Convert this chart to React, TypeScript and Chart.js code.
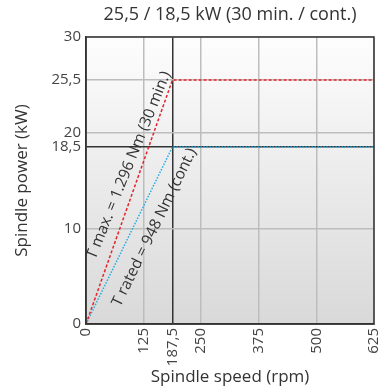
import React, { useEffect, useRef } from "react";
import { Chart, registerables } from "chart.js";
Chart.register(...registerables);

const xTicks = [0, 125, 187.5, 250, 375, 500, 625];
const yTicks = [0, 10, 18.5, 20, 25.5, 30];
const tMaxPoints = [
  { x: 0, y: 0 },
  { x: 187.5, y: 25.5 },
  { x: 625, y: 25.5 },
];
const tRatedPoints = [
  { x: 0, y: 0 },
  { x: 187.5, y: 18.5 },
  { x: 625, y: 18.5 },
];
const chartTitle = "25,5 / 18,5 kW (30 min. / cont.)";
const xTitle = "Spindle speed (rpm)";
const yTitle = "Spindle power (kW)";
const labelMax = { text: "T max. = 1.296 Nm (30 min.)", x: 93, y: 16.6, angle: -68 };
const labelRated = { text: "T rated = 948 Nm (cont.)", x: 148.6, y: 10.1, angle: -64 };

const fmt = (v: number) => String(v).replace(".", ",");
const FONT = "'Open Sans', 'DejaVu Sans', sans-serif";

export default function App() {
  const ref = useRef<HTMLCanvasElement>(null);
  useEffect(() => {
    if (!ref.current) return;
    const decor = {
      id: "decor",
      beforeDraw(chart: any) {
        const { ctx, chartArea: a } = chart;
        ctx.save();
        const g = ctx.createLinearGradient(0, a.top, 0, a.bottom);
        g.addColorStop(0, "#fdfdfd");
        g.addColorStop(1, "#d9d9d9");
        ctx.fillStyle = g;
        ctx.fillRect(a.left, a.top, a.right - a.left, a.bottom - a.top);
        ctx.restore();
      },
      afterDraw(chart: any) {
        const { ctx, chartArea: a, scales } = chart;
        ctx.save();
        ctx.strokeStyle = "#333";
        ctx.lineWidth = 1.5;
        ctx.strokeRect(a.left, a.top, a.right - a.left, a.bottom - a.top);
        ctx.fillStyle = "#333";
        ctx.textAlign = "center";
        ctx.textBaseline = "middle";
        ctx.font = `18px ${FONT}`;
        ctx.fillText(chartTitle, (a.left + a.right) / 2, 15);
        ctx.font = `17px ${FONT}`;
        ctx.fillText(xTitle, (a.left + a.right) / 2, 377);
        ctx.save();
        ctx.translate(22, (a.top + a.bottom) / 2);
        ctx.rotate(-Math.PI / 2);
        ctx.fillText(yTitle, 0, 0);
        ctx.restore();
        ctx.font = `15.5px ${FONT}`;
        for (const l of [labelMax, labelRated]) {
          ctx.save();
          ctx.translate(scales.x.getPixelForValue(l.x), scales.y.getPixelForValue(l.y));
          ctx.rotate((l.angle * Math.PI) / 180);
          ctx.fillText(l.text, 0, 0);
          ctx.restore();
        }
        ctx.restore();
      },
    };
    const chart = new Chart(ref.current, {
      type: "line",
      data: {
        datasets: [
          {
            data: tMaxPoints,
            borderColor: "#e3242b",
            borderWidth: 1.5,
            borderDash: [3, 2],
            pointRadius: 0,
            fill: false,
          },
          {
            data: tRatedPoints,
            borderColor: "#27aae1",
            borderWidth: 1.5,
            borderDash: [1.5, 1.5],
            pointRadius: 0,
            fill: false,
          },
        ],
      },
      options: {
        animation: false,
        responsive: false,
        layout: { padding: { top: 37, right: 13, left: 0, bottom: 0 } },
        plugins: { legend: { display: false }, tooltip: { enabled: false }, title: { display: false } },
        scales: {
          x: {
            type: "linear",
            min: 0,
            max: 625,
            afterBuildTicks: (s: any) => {
              s.ticks = xTicks.map((v) => ({ value: v }));
            },
            afterFit: (s: any) => {
              s.height = 67;
              s.paddingLeft = 0;
              s.paddingRight = 0;
            },
            ticks: {
              autoSkip: false,
              maxRotation: 90,
              minRotation: 90,
              padding: 4,
              color: "#444",
              font: { family: FONT, size: 15 },
              callback: (v: any) => fmt(Number(v)),
            },
            grid: {
              drawTicks: false,
              color: (c: any) => (c.tick && c.tick.value === 187.5 ? "#333" : "#bdbdbd"),
              lineWidth: 1.5,
            },
            border: { display: true, color: "#333", width: 1.5 },
          },
          y: {
            type: "linear",
            min: 0,
            max: 30,
            afterBuildTicks: (s: any) => {
              s.ticks = yTicks.map((v) => ({ value: v }));
            },
            afterFit: (s: any) => {
              s.width = 86;
              s.paddingTop = 0;
              s.paddingBottom = 0;
            },
            ticks: {
              autoSkip: false,
              padding: 5,
              color: "#444",
              font: { family: FONT, size: 15 },
              callback: (v: any) => fmt(Number(v)),
            },
            grid: {
              drawTicks: false,
              color: (c: any) => (c.tick && c.tick.value === 18.5 ? "#333" : "#bdbdbd"),
              lineWidth: 1.5,
            },
            border: { display: true, color: "#333", width: 1.5 },
          },
        },
      },
      plugins: [decor],
    } as any);
    return () => chart.destroy();
  }, []);
  return (
    <div style={{ position: "absolute", left: 0, top: 0, width: 387, height: 391 }}>
      <canvas ref={ref} width={387} height={391} />
    </div>
  );
}
